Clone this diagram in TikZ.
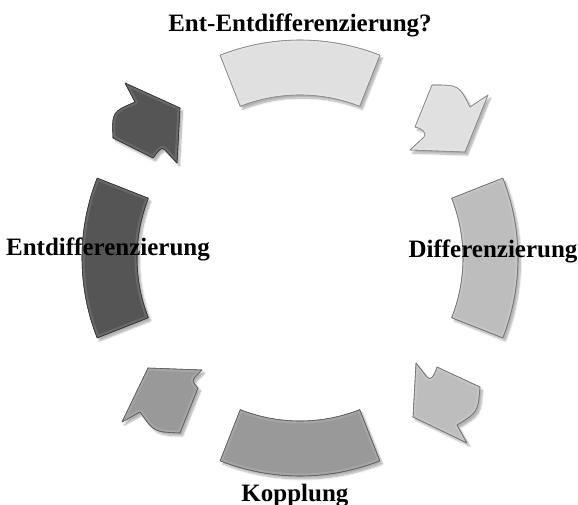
\documentclass[tikz,border=0pt]{standalone}
\usepackage{fontspec}
\setmainfont{Liberation Serif}
\usetikzlibrary{calc,shadows.blur}

\definecolor{toneA}{HTML}{E0E0E0}
\definecolor{toneB}{HTML}{BDBDBD}
\definecolor{toneC}{HTML}{999999}
\definecolor{toneD}{HTML}{555555}

\tikzset{
  piece/.style={draw=#1!62!black, line width=0.6pt, fill=#1, line join=round,
    blur shadow={shadow xshift=2.5pt, shadow yshift=-3pt,
                 shadow blur steps=6, shadow opacity=35},
    postaction={draw=white, draw opacity=0.12, line width=5pt},
    postaction={draw=#1!62!black, line width=0.6pt}},
  label/.style={anchor=base, inner sep=0pt, font=\bfseries\fontsize{25}{30}\selectfont}
}

\begin{document}
\begin{tikzpicture}[x=1pt, y=-1pt]
\useasboundingbox (0,0) rectangle (578,505);
\coordinate (C) at (300,258);

% four ring segments (outer radius 218pt, inner radius 163pt)
\path[piece=toneA] ($(C)+(68.5:218pt)$) arc[start angle=68.5, end angle=111.5, radius=218pt]
  -- ($(C)+(111.5:163pt)$) arc[start angle=111.5, end angle=68.5, radius=163pt] -- cycle;
\path[piece=toneB] ($(C)+(-21.5:218pt)$) arc[start angle=-21.5, end angle=21.5, radius=218pt]
  -- ($(C)+(21.5:163pt)$) arc[start angle=21.5, end angle=-21.5, radius=163pt] -- cycle;
\path[piece=toneC] ($(C)+(248.5:218pt)$) arc[start angle=248.5, end angle=291.5, radius=218pt]
  -- ($(C)+(291.5:163pt)$) arc[start angle=291.5, end angle=248.5, radius=163pt] -- cycle;
\path[piece=toneD] ($(C)+(158.5:218pt)$) arc[start angle=158.5, end angle=201.5, radius=218pt]
  -- ($(C)+(201.5:163pt)$) arc[start angle=201.5, end angle=158.5, radius=163pt] -- cycle;

% four curved arrows, running clockwise
\path[piece=toneA] (432,85) .. controls (459,85) .. (470,107) -- (488,95) -- (465,152)
  -- (410,150) -- (424,137) .. controls (428,133) and (421,128) .. (415,127) -- cycle;
\path[piece=toneB] (416,363) -- (427,377) .. controls (430,381) and (434,377) .. (437,367)
  -- (480,387) .. controls (478,412) .. (457,425) -- (467,443) -- (413,417) -- cycle;
\path[piece=toneC] (148,368) -- (202,370) -- (195,377) .. controls (191,381) and (195,385) .. (198,388)
  -- (180,433) .. controls (154,432) .. (140,412) -- (122,422) -- cycle;
\path[piece=toneD] (125,83) -- (180,108) -- (177,163) -- (165,150) .. controls (162,146) and (159,150) .. (153,158)
  -- (113,138) .. controls (112,112) .. (135,102) -- cycle;

% labels
\node[label] (top)    at (300,32)  {Ent-Entdifferenzierung?};
\node[label] (right)  at (493,257) {Differenzierung};
\node[label] (bottom) at (295,501) {Kopplung};
\node[label] (left)   at (108,255) {Entdifferenzierung};
\end{tikzpicture}
\end{document}
